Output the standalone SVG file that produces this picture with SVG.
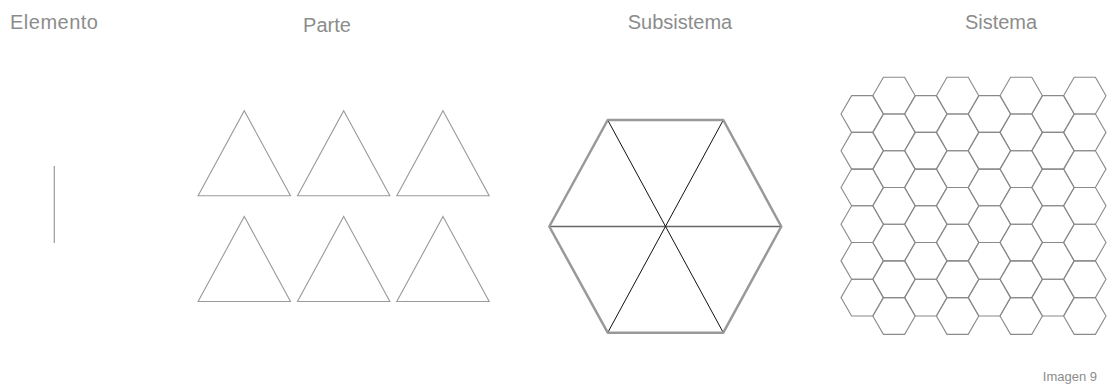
<svg xmlns="http://www.w3.org/2000/svg" xmlns:xlink="http://www.w3.org/1999/xlink" width="1112" height="385" viewBox="0 0 1112 385">
<style>
.lbl{font-family:"Liberation Sans",Arial,sans-serif;font-size:20px;fill:#8c8c8c}
.note{font-family:"Liberation Sans",Arial,sans-serif;font-size:13px;fill:#8c8c8c}
.tri{fill:none;stroke:#9a9a9a;stroke-width:1.1}
.hx{fill:none;stroke:#8a8a8a;stroke-width:1.1}
</style>
<defs>
<path id="h" class="hx" d="M-21.2,0 L-10.6,-18.36 L10.6,-18.36 L21.2,0 L10.6,18.36 L-10.6,18.36 Z"/>
<path id="t" class="tri" d="M0,0 L46.2,85 L-46.2,85 Z"/>
</defs>
<rect width="1112" height="385" fill="#ffffff"/>
<g id="labels">
<text class="lbl" x="10" y="29" letter-spacing="0.5">Elemento</text>
<text class="lbl" x="327" y="32" text-anchor="middle">Parte</text>
<text class="lbl" x="680" y="29" text-anchor="middle">Subsistema</text>
<text class="lbl" x="1001" y="29" text-anchor="middle">Sistema</text>
<text class="note" x="1097" y="381" text-anchor="end">Imagen 9</text>
</g>
<g id="elemento">
<line x1="54.3" y1="166" x2="54.3" y2="243" stroke="#9a9a9a" stroke-width="1.2"/>
</g>
<g id="parte">
<use xlink:href="#t" x="244.3" y="110.7"/>
<use xlink:href="#t" x="343.7" y="110.7"/>
<use xlink:href="#t" x="443" y="110.7"/>
<use xlink:href="#t" x="244.3" y="216.5"/>
<use xlink:href="#t" x="343.7" y="216.5"/>
<use xlink:href="#t" x="443" y="216.5"/>
</g>
<g id="subsistema">
<line x1="549.5" y1="226.5" x2="781" y2="226.5" stroke="#666" stroke-width="1.5"/>
<line x1="607.7" y1="120" x2="723.3" y2="332.7" stroke="#111" stroke-width="1"/>
<line x1="723.3" y1="120" x2="607.7" y2="332.7" stroke="#111" stroke-width="1"/>
<path d="M607.7,120 L723.3,120 L781.3,226.5 L723.3,332.7 L607.7,332.7 L549.3,226.5 Z" fill="none" stroke="#999" stroke-width="2.5" stroke-linejoin="round"/>
</g>
<g id="sistema">
<use xlink:href="#h" x="862.2" y="114"/><use xlink:href="#h" x="862.2" y="150.72"/><use xlink:href="#h" x="862.2" y="187.44"/><use xlink:href="#h" x="862.2" y="224.16"/><use xlink:href="#h" x="862.2" y="260.88"/><use xlink:href="#h" x="862.2" y="297.6"/>
<use xlink:href="#h" x="894" y="95.66"/><use xlink:href="#h" x="894" y="132.38"/><use xlink:href="#h" x="894" y="169.1"/><use xlink:href="#h" x="894" y="205.82"/><use xlink:href="#h" x="894" y="242.54"/><use xlink:href="#h" x="894" y="279.26"/><use xlink:href="#h" x="894" y="315.98"/>
<use xlink:href="#h" x="925.8" y="114"/><use xlink:href="#h" x="925.8" y="150.72"/><use xlink:href="#h" x="925.8" y="187.44"/><use xlink:href="#h" x="925.8" y="224.16"/><use xlink:href="#h" x="925.8" y="260.88"/><use xlink:href="#h" x="925.8" y="297.6"/>
<use xlink:href="#h" x="957.6" y="95.66"/><use xlink:href="#h" x="957.6" y="132.38"/><use xlink:href="#h" x="957.6" y="169.1"/><use xlink:href="#h" x="957.6" y="205.82"/><use xlink:href="#h" x="957.6" y="242.54"/><use xlink:href="#h" x="957.6" y="279.26"/><use xlink:href="#h" x="957.6" y="315.98"/>
<use xlink:href="#h" x="989.4" y="114"/><use xlink:href="#h" x="989.4" y="150.72"/><use xlink:href="#h" x="989.4" y="187.44"/><use xlink:href="#h" x="989.4" y="224.16"/><use xlink:href="#h" x="989.4" y="260.88"/><use xlink:href="#h" x="989.4" y="297.6"/>
<use xlink:href="#h" x="1021.2" y="95.66"/><use xlink:href="#h" x="1021.2" y="132.38"/><use xlink:href="#h" x="1021.2" y="169.1"/><use xlink:href="#h" x="1021.2" y="205.82"/><use xlink:href="#h" x="1021.2" y="242.54"/><use xlink:href="#h" x="1021.2" y="279.26"/><use xlink:href="#h" x="1021.2" y="315.98"/>
<use xlink:href="#h" x="1053" y="114"/><use xlink:href="#h" x="1053" y="150.72"/><use xlink:href="#h" x="1053" y="187.44"/><use xlink:href="#h" x="1053" y="224.16"/><use xlink:href="#h" x="1053" y="260.88"/><use xlink:href="#h" x="1053" y="297.6"/>
<use xlink:href="#h" x="1084.8" y="95.66"/><use xlink:href="#h" x="1084.8" y="132.38"/><use xlink:href="#h" x="1084.8" y="169.1"/><use xlink:href="#h" x="1084.8" y="205.82"/><use xlink:href="#h" x="1084.8" y="242.54"/><use xlink:href="#h" x="1084.8" y="279.26"/><use xlink:href="#h" x="1084.8" y="315.98"/>
</g>
</svg>
